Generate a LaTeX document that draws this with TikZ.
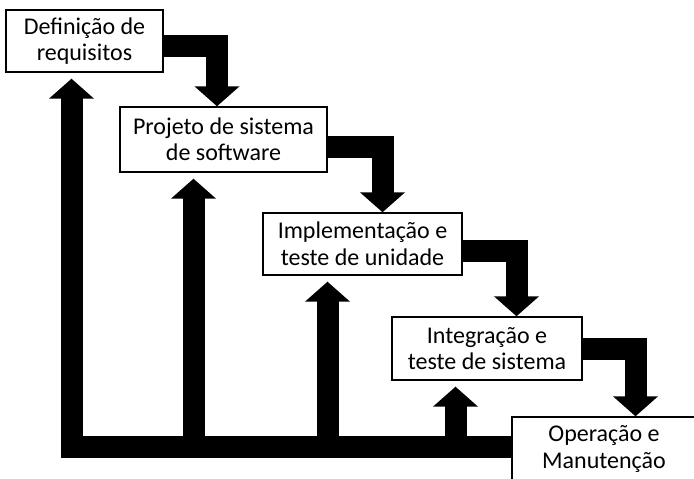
\documentclass[tikz,border=0pt]{standalone}
\usepackage{fontspec}
\setmainfont{Carlito}
\usetikzlibrary{calc,arrows.meta}

\tikzset{
	etapa/.style={draw, line width=1.4pt, fill=white, align=center, inner sep=0pt, font=\fontsize{24}{26.5}\selectfont},
	fluxo/.style={line width=22pt, line join=miter, -{Triangle[width=44pt,length=20pt]}},
	retorno/.style={fluxo, shorten >=6pt}
}

\begin{document}
\begin{tikzpicture}[x=1pt,y=-1pt]
		%%%%% START %%%%%
		\useasboundingbox (0,0) rectangle (694,479);
		\clip (0,0) rectangle (694,479);
		
		\node[etapa, minimum width=157pt, minimum height=62pt] (def) at (84.5,41) {Definição de\\requisitos};
		\node[etapa, minimum width=207pt, minimum height=65pt] (proj) at (223.5,139.5) {Projeto de sistema\\de software};
		\node[etapa, minimum width=199pt, minimum height=62pt] (impl) at (362.5,244) {Implementação e\\teste de unidade};
		\node[etapa, minimum width=190pt, minimum height=63pt] (integ) at (487,348.5) {Integração e\\teste de sistema};
		\node[etapa, minimum width=184pt, minimum height=64pt] (op) at (604,449) {Operação e\\Manutenção};
		
		% descida
		\draw[fluxo] ([yshift=-5pt]def.east) -| ([xshift=-6.5pt]proj.north);
		\draw[fluxo] ([yshift=-7pt]proj.east) -| ([xshift=20pt]impl.north);
		\draw[fluxo] ([yshift=-7pt]impl.east) -| ([xshift=29.5pt]integ.north);
		\draw[fluxo] (integ.east) -| ([xshift=31.5pt]op.north);
		
		% retorno
		\coordinate (barra) at ([yshift=2.5pt]op.west);
		\draw[retorno] (barra) -| ([xshift=-13pt]def.south);
		\draw[retorno] ($(proj.south |- barra)+(-30,0)$) -- ([xshift=-30pt]proj.south);
		\draw[retorno] ($(impl.south |- barra)+(-35,0)$) -- ([xshift=-35pt]impl.south);
		\draw[retorno] ($(integ.south |- barra)+(-31.5,0)$) -- ([xshift=-31.5pt]integ.south);
		
		%%%%% END %%%%%
	\end{tikzpicture}
\end{document}
